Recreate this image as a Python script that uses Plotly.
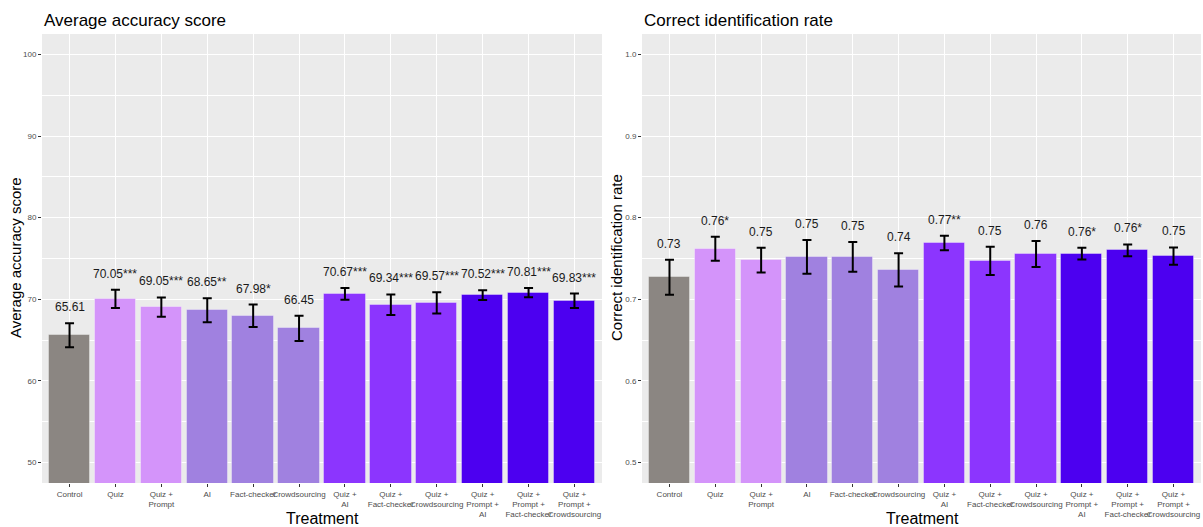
import plotly.graph_objects as go

# Treatment arms (line breaks used for the axis labels)
treatments = [
    "Control", "Quiz", "Quiz +<br>Prompt", "AI", "Fact-checker", "Crowdsourcing",
    "Quiz +<br>AI", "Quiz +<br>Fact-checker", "Quiz +<br>Crowdsourcing",
    "Quiz +<br>Prompt +<br>AI", "Quiz +<br>Prompt +<br>Fact-checker",
    "Quiz +<br>Prompt +<br>Crowdsourcing",
]

# Average accuracy score: mean, standard error, significance stars
accuracy_mean = [65.61, 70.05, 69.05, 68.65, 67.98, 66.45, 70.67, 69.34, 69.57, 70.52, 70.81, 69.83]
accuracy_se = [1.47, 1.12, 1.18, 1.47, 1.38, 1.55, 0.71, 1.26, 1.30, 0.59, 0.57, 0.88]
accuracy_sig = ["", "***", "***", "**", "*", "", "***", "***", "***", "***", "***", "***"]

# Correct identification rate: mean, standard error, significance stars
ident_rate = [0.727, 0.762, 0.748, 0.752, 0.752, 0.736, 0.769, 0.747, 0.7555, 0.756, 0.760, 0.753]
ident_se = [0.0214, 0.0147, 0.0153, 0.0208, 0.0182, 0.0204, 0.0088, 0.0173, 0.0159, 0.0073, 0.0073, 0.0106]
ident_sig = ["", "*", "", "", "", "", "**", "", "", "*", "*", ""]

# Fill colour per treatment group
bar_colors = ["#8B8682", "#D494FA", "#D494FA", "#A081E0", "#A081E0", "#A081E0",
              "#8C35FE", "#8C35FE", "#8C35FE", "#4C00F0", "#4C00F0", "#4C00F0"]

FONT = "Liberation Sans, Arial, Helvetica, sans-serif"
W, H = 1203, 527


def px_x(p):
    return p / W


def px_y(p):
    return 1 - p / H


fig = go.Figure()


def add_panel(vals, errs, sig, fmt, xa, ya):
    fig.add_trace(go.Bar(
        x=treatments, y=vals, width=0.9,
        marker=dict(color=bar_colors, line=dict(color="rgba(255,255,255,0.35)", width=1)),
        error_y=dict(type="data", array=errs, visible=True, color="black", thickness=2, width=4.5),
        xaxis=xa, yaxis=ya, showlegend=False, hoverinfo="skip",
    ))
    for t, v, e, s in zip(treatments, vals, errs, sig):
        fig.add_annotation(
            x=t, y=v + e, xref=xa, yref=ya, text=format(v, fmt) + s,
            showarrow=False, yanchor="middle", yshift=16,
            font=dict(family=FONT, size=12, color="#1a1a1a"),
        )


add_panel(accuracy_mean, accuracy_se, accuracy_sig, ".2f", "x", "y")
add_panel(ident_rate, ident_se, ident_sig, ".2f", "x2", "y2")

ydom = [px_y(483), px_y(34)]
xcommon = dict(
    type="category", range=[-0.6, 11.6], showgrid=True, gridcolor="white", gridwidth=1.3,
    ticks="outside", ticklen=3, tickcolor="#333333", tickwidth=1, tickangle=0,
    tickfont=dict(family=FONT, size=8, color="#4d4d4d"), showline=False,
    zeroline=False, automargin=False,
)
ycommon = dict(
    showgrid=True, gridcolor="white", gridwidth=1.3,
    ticks="outside", ticklen=3, tickcolor="#333333", tickwidth=1,
    tickfont=dict(family=FONT, size=8, color="#4d4d4d"), showline=False,
    zeroline=False, automargin=False, domain=ydom,
)

fig.update_layout(
    width=W, height=H,
    margin=dict(l=0, r=0, t=0, b=0, autoexpand=False),
    paper_bgcolor="white", plot_bgcolor="#EBEBEB",
    template="none", bargap=0, showlegend=False,
    xaxis=dict(xcommon, domain=[px_x(42), px_x(602)], anchor="y"),
    yaxis=dict(ycommon, range=[47.5, 102.5], tickvals=[50, 60, 70, 80, 90, 100], anchor="x",
               minor=dict(tickvals=[55, 65, 75, 85, 95], showgrid=True, gridcolor="white",
                          gridwidth=0.6, ticks="")),
    xaxis2=dict(xcommon, domain=[px_x(642), px_x(1201)], anchor="y2"),
    yaxis2=dict(ycommon, range=[0.475, 1.025], tickvals=[0.5, 0.6, 0.7, 0.8, 0.9, 1.0],
                tickformat=".1f", anchor="x2",
                minor=dict(tickvals=[0.55, 0.65, 0.75, 0.85, 0.95], showgrid=True,
                           gridcolor="white", gridwidth=0.6, ticks="")),
)

# Panel titles and axis titles
titles = [
    ("Average accuracy score", 42, 21, 0, "left", 17),
    ("Correct identification rate", 642, 21, 0, "left", 17),
    ("Treatment", 322, 518, 0, "center", 16),
    ("Treatment", 922, 518, 0, "center", 16),
    ("Average accuracy score", 16, 258, -90, "center", 15),
    ("Correct identification rate", 617, 258, -90, "center", 15),
]
for text, x, y, ang, anchor, size in titles:
    fig.add_annotation(
        x=px_x(x), y=px_y(y), xref="paper", yref="paper", text=text,
        showarrow=False, textangle=ang, xanchor=anchor, yanchor="middle",
        font=dict(family=FONT, size=size, color="black"),
    )

fig.write_html("out.html")
